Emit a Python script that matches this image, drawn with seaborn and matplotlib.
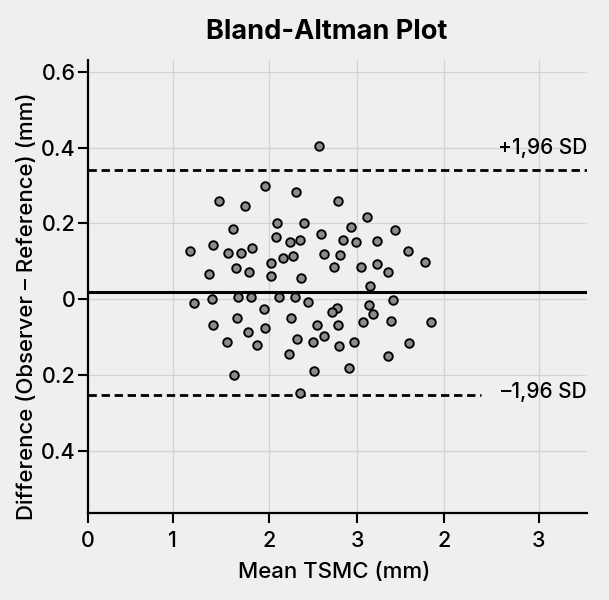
import matplotlib
matplotlib.use("Agg")
import matplotlib.pyplot as plt
import seaborn as sns
import pandas as pd

# ---- data ----
mean_tsmc = [2.563, 1.963, 2.311, 1.456, 1.744, 2.774, 3.100, 1.607, 2.100, 2.396,
             2.926, 3.415, 2.593, 2.089, 2.248, 2.352, 2.833, 2.981, 3.211, 1.133,
             1.385, 1.552, 1.700, 1.818, 2.170, 2.278, 2.622, 2.804, 3.556, 3.748,
             2.037, 1.644, 1.789, 1.348, 2.033, 2.363, 2.733, 3.030, 3.207, 3.330,
             3.130, 1.178, 1.381, 1.667, 1.815, 2.126, 2.304, 2.444, 1.956, 2.763,
             2.707, 3.122, 3.170, 3.385, 1.652, 1.389, 2.259, 1.778, 1.967, 2.544,
             2.781, 3.056, 3.367, 3.815, 1.541, 1.881, 2.326, 2.496, 2.626, 2.793,
             2.959, 3.563, 2.237, 3.337, 1.626, 2.507, 2.904, 2.356]
difference = [0.405, 0.299, 0.283, 0.259, 0.246, 0.260, 0.218, 0.184, 0.200, 0.201,
              0.190, 0.183, 0.171, 0.164, 0.152, 0.156, 0.157, 0.150, 0.153, 0.127,
              0.142, 0.122, 0.122, 0.135, 0.109, 0.115, 0.120, 0.116, 0.128, 0.099,
              0.096, 0.082, 0.072, 0.066, 0.062, 0.056, 0.084, 0.084, 0.094, 0.072,
              0.036, -0.009, 0.000, 0.006, 0.006, 0.006, 0.005, -0.007, -0.026, -0.023,
              -0.034, -0.015, -0.040, -0.003, -0.049, -0.069, -0.050, -0.086, -0.077, -0.069,
              -0.069, -0.060, -0.057, -0.060, -0.112, -0.121, -0.105, -0.112, -0.098, -0.123,
              -0.113, -0.116, -0.146, -0.151, -0.201, -0.189, -0.182, -0.247]

mean_diff = 0.020
upper_loa = 0.340
lower_loa = -0.254
upper_label = "+1,96 SD"
lower_label = "\u20131,96 SD"

x_tick_pos = [0, 0.94, 2.01, 2.99, 3.96, 5.01]
x_tick_labels = ["0", "1", "2", "3", "2", "3"]
y_tick_pos = [0.6, 0.4, 0.2, 0.0, -0.2, -0.4]
y_tick_labels = ["0.6", "0.4", "0.2", "0", "0.2", "0.4"]

title = "Bland-Altman Plot"
xlabel = "Mean TSMC (mm)"
ylabel = "Difference (Observer \u2013 Reference) (mm)"

df = pd.DataFrame({"mean": mean_tsmc, "diff": difference})

# ---- style ----
sns.set_theme(style="white")
bg = "#efefef"
plt.rcParams["font.family"] = ["Inter", "Liberation Sans", "DejaVu Sans"]
plt.rcParams["font.weight"] = "medium"
plt.rcParams["axes.facecolor"] = bg
plt.rcParams["figure.facecolor"] = bg

fig = plt.figure(figsize=(6.09, 6.0), dpi=100)
ax = fig.add_axes([88 / 609, 1 - 513.3 / 600, (587 - 88) / 609, (513.3 - 60) / 600])
ax.set_facecolor(bg)

xmax = 5.544
ymin, ymax = -0.565, 0.631

# grid
for xp in x_tick_pos[1:]:
    ax.axvline(xp, color="#d2d2d2", lw=0.9, zorder=0)
for yp in y_tick_pos:
    ax.axhline(yp, color="#d2d2d2", lw=0.9, zorder=0)

# reference lines
ax.axhline(mean_diff, color="black", lw=2.2, zorder=2)
ax.plot([0, xmax], [upper_loa, upper_loa], color="black", lw=2.0,
        dashes=(3.0, 1.7), zorder=2)
ax.plot([0, 4.37], [lower_loa, lower_loa], color="black", lw=2.0,
        dashes=(3.0, 1.7), zorder=2)

sns.scatterplot(data=df, x="mean", y="diff", ax=ax, s=38, color="#8c8c8c",
                edgecolor="black", linewidth=1.35, zorder=3, legend=False)

ax.text(xmax, 0.40, upper_label, ha="right", va="center", fontsize=15,
        color="black", fontweight="medium")
ax.text(xmax, -0.246, lower_label, ha="right", va="center", fontsize=15,
        color="black", fontweight="medium")

ax.set_xlim(0, xmax)
ax.set_ylim(ymin, ymax)
ax.set_xticks(x_tick_pos)
ax.set_xticklabels(x_tick_labels, fontweight="medium")
ax.set_yticks(y_tick_pos)
ax.set_yticklabels(y_tick_labels, fontweight="medium")
ax.tick_params(axis="both", which="major", direction="out", length=7, width=1.5,
               color="black", labelsize=15.5, labelcolor="black", bottom=True, left=True)
ax.tick_params(axis="x", pad=6)
ax.tick_params(axis="y", pad=2)

for side in ["top", "right"]:
    ax.spines[side].set_visible(False)
for side in ["left", "bottom"]:
    ax.spines[side].set_color("black")
    ax.spines[side].set_linewidth(1.6)

ax.set_xlabel(xlabel, fontsize=16, color="black", fontweight="medium")
ax.set_ylabel(ylabel, fontsize=16, color="black", fontweight="medium")
ax.xaxis.set_label_coords(0.493, -0.107)
ax.yaxis.set_label_coords(-0.102, 0.457)

fig.text(327 / 609, 1 - 32 / 600, title, ha="center", va="center",
         fontsize=19.5, fontweight="bold", color="black")

fig.savefig("out.png", dpi=100, facecolor=bg)
